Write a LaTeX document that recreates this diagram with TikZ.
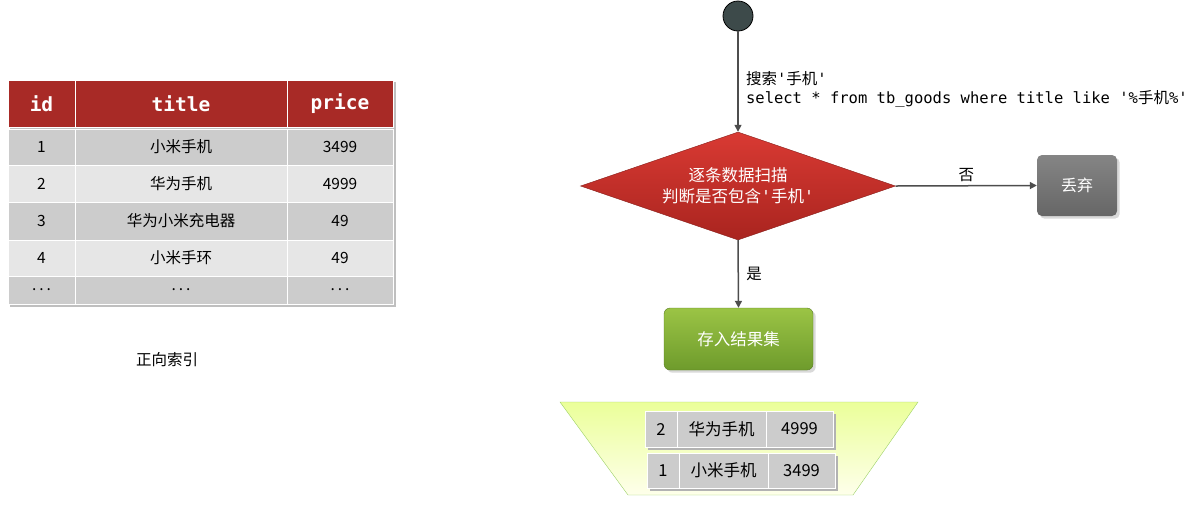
\documentclass[tikz,border=0pt]{standalone}
\usepackage{fontspec}
\setmainfont{Noto Sans CJK SC}
\setmonofont{DejaVu Sans Mono}
\newfontfamily\cjk{Noto Sans CJK SC}
\usetikzlibrary{arrows.meta,shapes.geometric,shadows}
\definecolor{hdr}{HTML}{A82A26}
\definecolor{rowa}{HTML}{CCCCCC}
\definecolor{rowb}{HTML}{E6E6E6}
\definecolor{edgec}{HTML}{4D4D4D}
\definecolor{startc}{HTML}{3D4A4A}
\definecolor{gtop}{HTML}{9BC445}
\definecolor{gbot}{HTML}{6E9B2C}
\definecolor{dtop}{HTML}{D93A33}
\definecolor{dbot}{HTML}{A9241F}
\newcommand\mydots{.\hspace{3pt}.\hspace{3pt}.}
\newcommand\sq{{\ttfamily\char39}}
\tikzset{
 cell/.style={draw=white,line width=1pt,font=\fontsize{15.5}{17}\selectfont},
 hcell/.style={cell,fill=hdr,text=white,font=\fontsize{19.5}{21}\selectfont\ttfamily\bfseries},
 arr/.style={draw=edgec,line width=1.5pt,-{Triangle[length=7pt,width=7pt]}},
 lbl/.style={font=\fontsize{15.5}{17}\selectfont},
}
\begin{document}
\begin{tikzpicture}[x=1pt,y=-1pt]
\useasboundingbox (0,0) rectangle (1201,507);
% left table
\fill[black!25] (10,82) rectangle (396,307);
\node[hcell,minimum width=67,minimum height=47] (h1) at (41.5,103.5) {id};
\node[hcell,minimum width=212,minimum height=47] (h2) at (181,103.5) {title};
\node[hcell,minimum width=106,minimum height=47] (h3) at (340,103.5) {price};
\foreach \ya/\yb/\c/\a/\b/\p in {129/165/rowa/1/小米手机/3499,165/202/rowb/2/华为手机/4999,202/240/rowa/3/华为小米充电器/49,240/276/rowb/4/小米手环/49,276/304/rowa/\mydots/\mydots/\mydots}{
 \path[cell,fill=\c] (8,\ya) rectangle (75,\yb) node[midway]{\a};
 \path[cell,fill=\c] (75,\ya) rectangle (287,\yb) node[midway]{\b};
 \path[cell,fill=\c] (287,\ya) rectangle (393,\yb) node[midway]{\p};
}
\node[lbl] (cap) at (167,360) {正向索引};
% flow
\node[circle,draw=black,line width=0.8pt,fill=startc,minimum size=30] (start) at (738,16) {};
\node[diamond,aspect=2.9,minimum width=315,minimum height=108,inner sep=0,draw=dbot!80!black,top color=dtop,bottom color=dbot,text=white,align=center,font=\fontsize{16.5}{21}\selectfont] (dec) at (738,186) {逐条数据扫描\\判断是否包含\sq 手机\sq};
\node[rounded corners=5,minimum width=80,minimum height=61,top color=black!48,bottom color=black!60,text=white,font=\fontsize{16}{18}\selectfont,drop shadow={opacity=0.3}] (drop) at (1077,185.5) {丢弃};
\node[rounded corners=6,minimum width=149,minimum height=62,top color=gtop,bottom color=gbot,draw=gbot!80!black,text=white,font=\fontsize{16.5}{18}\selectfont,drop shadow={opacity=0.3}] (res) at (738.5,339) {存入结果集};
\draw[arr] (start) -- (dec.north) node[pos=0.58,right=4pt,align=left,font=\fontsize{15.5}{19}\selectfont\ttfamily,anchor=west] {{\cjk 搜索}'{\cjk 手机}'\\select * from tb\_goods where title like '\%{\cjk 手机}\%'};
\draw[arr] (dec.east) -- (drop.west) node[midway,above,lbl] {否};
\draw[arr] (dec.south) -- (res.north) node[midway,right=4pt,lbl] {是};
% bucket
\shade[top color=green!20!yellow!40,bottom color=green!5!yellow!8,draw=green!50!yellow!70!black!60] (560,402) -- (918,402) -- (853,495) -- (628,495) -- cycle;
\foreach \ya/\yb/\xo/\a/\b/\p in {411/447/645/2/华为手机/4999,453/488/647/1/小米手机/3499}{
 \fill[black!30] (\xo+3,\ya+3) rectangle (\xo+191,\yb+3);
 \path[cell,fill=rowa] (\xo,\ya) rectangle (\xo+32,\yb) node[midway,font=\fontsize{16.5}{18}\selectfont]{\a};
 \path[cell,fill=rowa] (\xo+32,\ya) rectangle (\xo+121,\yb) node[midway,font=\fontsize{16.5}{18}\selectfont]{\b};
 \path[cell,fill=rowa] (\xo+121,\ya) rectangle (\xo+188,\yb) node[midway,font=\fontsize{16.5}{18}\selectfont]{\p};
}
\end{tikzpicture}
\end{document}
